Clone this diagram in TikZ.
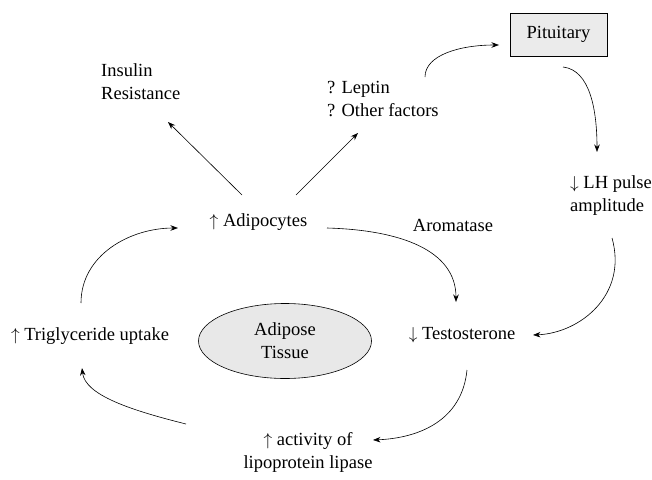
\documentclass[tikz,border=0pt]{standalone}
\usepackage{fontspec}
\setmainfont{Liberation Serif}
\usetikzlibrary{arrows.meta,shapes.geometric}
\begin{document}
\begin{tikzpicture}[x=1pt,y=-1pt,
  txt/.style={inner sep=0pt,font=\fontsize{18.5}{23}\selectfont},
  conn/.style={line width=0.6pt,-{Stealth[length=7.5pt,width=5.5pt]}},
  plain/.style={line width=0.6pt}]
\useasboundingbox (0,0) rectangle (652,479);
% nodes
\node[txt] (adip) at (258.5,222) {$\uparrow$ Adipocytes};
\node[txt] (arom) at (453,225) {Aromatase};
\node[txt] (test) at (462,335) {$\downarrow$ Testosterone};
\node[txt] (trig) at (90,336) {$\uparrow$ Triglyceride uptake};
\node[txt,align=center] (lpl) at (308,452) {$\uparrow$ activity of\\lipoprotein lipase};
\node[txt,align=left,anchor=west] (ins) at (101,82) {Insulin\\Resistance};
\node[txt,align=left,anchor=west] (lep) at (327,99) {? Leptin\\? Other factors};
\node[txt,align=left,anchor=west] (lh) at (570,196) {$\downarrow$ LH pulse\\amplitude};
\node[txt,draw,line width=0.6pt,fill=black!8,minimum width=97pt,minimum height=43pt] (pit) at (558.5,34.5) {Pituitary};
\node[txt,ellipse,draw,line width=0.6pt,fill=black!9,minimum width=173pt,minimum height=75pt,align=center] (adt) at (285,341) {Adipose\\Tissue};
% connector end points
\coordinate (a1) at (327,228);
\coordinate (t1) at (456,302);
\coordinate (lh1) at (612,238);
\coordinate (t2) at (533,335);
\coordinate (p1) at (563,67);
\coordinate (lh2) at (597,152);
\coordinate (l1) at (425,77);
\coordinate (p2) at (499,45);
\coordinate (t3) at (467,370);
\coordinate (lp1) at (373,440);
\coordinate (lp2) at (186,424);
\coordinate (tr1) at (82,368);
\coordinate (tr2) at (81,303);
\coordinate (a2) at (178,228);
\coordinate (a3) at (242,195);
\coordinate (i1) at (168,122);
\coordinate (a4) at (296,195);
\coordinate (l2) at (358,133);
% connectors
\draw[conn] (a1) .. controls (400,230) and (456,250) .. (t1);
\draw[conn] (lh1) .. controls (628,295) and (580,333) .. (t2);
\draw[conn] (p1) .. controls (590,70) and (597,110) .. (lh2);
\draw[conn] (l1) .. controls (425,55) and (460,45) .. (p2);
\draw[conn] (t3) .. controls (462,420) and (420,438) .. (lp1);
\draw[conn] (lp2) .. controls (130,410) and (85,395) .. (tr1);
\draw[conn] (tr2) .. controls (81,255) and (130,228) .. (a2);
\draw[conn] (a3) -- (i1);
\draw[conn] (a4) -- (l2);
\end{tikzpicture}
\end{document}
